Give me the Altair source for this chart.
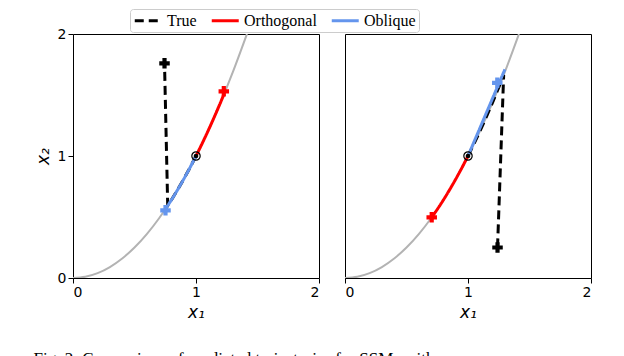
import altair as alt
import pandas as pd

series_names = ["True", "Orthogonal", "Oblique"]
series_colors = ["#000000", "#ff0000", "#6495ed"]
series_dash = [[9, 5], [1, 0], [1, 0]]

# manifold (gray curve)
curve_x = [0.0, 0.1, 0.2, 0.3, 0.4, 0.5, 0.6, 0.7, 0.8, 0.9, 1.0, 1.1, 1.2, 1.3, 1.414]
curve_y = [0.0, 0.01, 0.04, 0.09, 0.16, 0.25, 0.36, 0.49, 0.64, 0.81, 1.0, 1.21, 1.44, 1.69, 2.0]

# left panel
L_true_x = [1.0, 0.95, 0.9, 0.85, 0.8, 0.77, 0.744]
L_true_y = [1.0, 0.9025, 0.81, 0.7225, 0.64, 0.593, 1.76]
L_orth_x = [1.0, 1.05, 1.1, 1.15, 1.2, 1.226]
L_orth_y = [1.0, 1.1025, 1.21, 1.3225, 1.44, 1.503]
L_obl_x = [1.0, 0.95, 0.9, 0.85, 0.8, 0.755]
L_obl_y = [1.0, 0.9025, 0.81, 0.7225, 0.64, 0.57]
L_end_x = [0.744, 1.226, 0.752]
L_end_y = [1.76, 1.53, 0.555]

# right panel
R_true_x = [1.0, 1.05, 1.1, 1.15, 1.2, 1.25, 1.29, 1.24]
R_true_y = [1.0, 1.1025, 1.21, 1.3225, 1.44, 1.5625, 1.664, 0.25]
R_orth_x = [1.0, 0.95, 0.9, 0.85, 0.8, 0.75, 0.705]
R_orth_y = [1.0, 0.9025, 0.81, 0.7225, 0.64, 0.5625, 0.497]
R_obl_x = [1.0, 1.15, 1.3]
R_obl_y = [1.0, 1.355, 1.71]
R_end_x = [1.24, 0.705, 1.238]
R_end_y = [0.25, 0.497, 1.60]

start_x = [1.0]
start_y = [1.0]

color_scale = alt.Scale(domain=series_names, range=series_colors)
dash_scale = alt.Scale(domain=series_names, range=series_dash)


def make_legend():
    return alt.Legend(
        title=None, orient="none", legendX=57, legendY=-25, direction="horizontal",
        labelFont="Liberation Serif", labelFontSize=16, labelColor="black",
        symbolType="M-1,0L3,0", symbolStrokeWidth=3, symbolSize=182, labelOffset=17,
        columnPadding=8, padding=3, strokeColor="#cccccc", fillColor="white",
        cornerRadius=3, labelLimit=200,
    )


def panel(tx, ty, ox, oy, bx, by, ex, ey, show_y):
    curve = pd.DataFrame({"x": curve_x, "y": curve_y})
    lines = pd.DataFrame({
        "x": tx + ox + bx,
        "y": ty + oy + by,
        "series": ["True"] * len(tx) + ["Orthogonal"] * len(ox) + ["Oblique"] * len(bx),
        "idx": list(range(len(tx))) + list(range(len(ox))) + list(range(len(bx))),
    })
    ends = pd.DataFrame({"x": ex, "y": ey, "series": series_names})
    start = pd.DataFrame({"x": start_x, "y": start_y})

    xenc = alt.X("x:Q", scale=alt.Scale(domain=[0, 2], nice=False, zero=False),
                 axis=alt.Axis(tickCount=2, title="x₁", format="d", labelOverlap=False))
    if show_y:
        yaxis = alt.Axis(tickCount=2, title="x₂", format="d", labelOverlap=False)
    else:
        yaxis = alt.Axis(tickCount=2, title=None, labels=False, ticks=False)
    yenc = alt.Y("y:Q", scale=alt.Scale(domain=[0, 2], nice=False, zero=False), axis=yaxis)

    gray = alt.Chart(curve).mark_line(color="#b3b3b3", strokeWidth=2, clip=True,
                                      interpolate="monotone").encode(x=xenc, y=yenc)

    def series_line(name, interp):
        return alt.Chart(lines).transform_filter(alt.datum.series == name).mark_line(
            strokeWidth=3, interpolate=interp, clip=True
        ).encode(
            x=xenc, y=yenc, order="idx:Q",
            color=alt.Color("series:N", scale=color_scale, legend=make_legend()),
            strokeDash=alt.StrokeDash("series:N", scale=dash_scale, legend=make_legend()),
        )

    true_l = series_line("True", "linear")
    orth_l = series_line("Orthogonal", "monotone")
    obl_l = series_line("Oblique", "monotone")

    crosses = alt.Chart(ends).mark_point(shape="cross", filled=True, size=110, opacity=1).encode(
        x=xenc, y=yenc, color=alt.Color("series:N", scale=color_scale, legend=None))
    ring = alt.Chart(start).mark_point(shape="circle", filled=False, size=70, color="black",
                                       strokeWidth=1.2, opacity=1).encode(x=xenc, y=yenc)
    dot = alt.Chart(start).mark_point(shape="circle", filled=True, size=22, color="black",
                                      opacity=1).encode(x=xenc, y=yenc)

    return alt.layer(gray, true_l, orth_l, obl_l, crosses, ring, dot).properties(width=246, height=244)


left = panel(L_true_x, L_true_y, L_orth_x, L_orth_y, L_obl_x, L_obl_y, L_end_x, L_end_y, True)
right = panel(R_true_x, R_true_y, R_orth_x, R_orth_y, R_obl_x, R_obl_y, R_end_x, R_end_y, False)

chart = alt.hconcat(left, right, spacing=24).resolve_scale(
    color="shared", strokeDash="shared"
).resolve_legend(color="shared", strokeDash="shared").properties(
    padding={"left": 25, "top": 0, "right": 5, "bottom": 0},
    title=alt.TitleParams(
        "Fig. 2: Comparison of predicted trajectories for SSMs with",
        orient="bottom", anchor="start", font="Liberation Serif", fontSize=17,
        fontWeight="normal", color="black", offset=30,
    ),
).configure_view(stroke="black", strokeWidth=1).configure_axis(
    grid=False, domain=False, tickColor="black", tickSize=5, labelColor="black",
    labelFont="DejaVu Sans", labelFontSize=14, labelPadding=2,
    titleFont="DejaVu Sans", titleFontSize=17, titleFontStyle="italic",
    titleFontWeight="normal", titleColor="black", titlePadding=5,
)

chart.save("out.html", embed_options={"renderer": "svg", "actions": False})
